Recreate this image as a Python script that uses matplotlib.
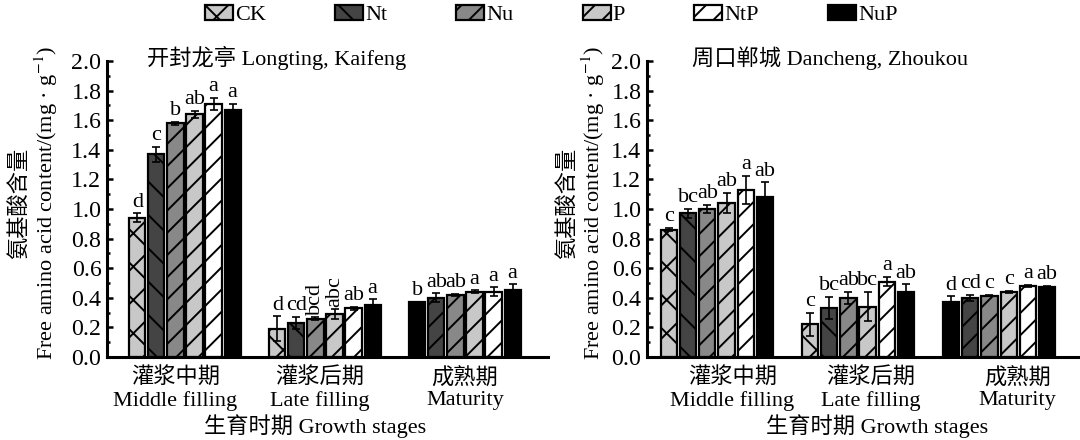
import numpy as np
import matplotlib
matplotlib.use("Agg")
import matplotlib.pyplot as plt
from matplotlib.patches import Patch

plt.rcParams['font.family'] = ['Liberation Serif', 'Noto Sans CJK SC']
plt.rcParams['mathtext.fontset'] = 'stix'
plt.rcParams['font.size'] = 8
plt.rcParams['hatch.linewidth'] = 0.7
plt.rcParams['axes.unicode_minus'] = False

treatments = ['CK', 'Nt', 'Nu', 'P', 'NtP', 'NuP']
stage_cn = ['灌浆中期', '灌浆后期', '成熟期']
stage_en = ['Middle filling', 'Late filling', 'Maturity']

# values per stage (rows) and treatment (columns)
kf_vals = [[0.94, 1.37, 1.58, 1.64, 1.71, 1.67],
           [0.19, 0.23, 0.26, 0.29, 0.33, 0.35],
           [0.37, 0.40, 0.42, 0.44, 0.44, 0.45]]
kf_err = [[0.03, 0.05, 0.01, 0.025, 0.04, 0.04],
          [0.085, 0.04, 0.01, 0.035, 0.01, 0.04],
          [0.005, 0.03, 0.005, 0.01, 0.03, 0.04]]
kf_letters = [['d', 'c', 'b', 'ab', 'a', 'a'],
              ['d', 'cd', 'bcd', 'abc', 'ab', 'a'],
              ['b', 'ab', 'ab', 'a', 'a', 'a']]

zk_vals = [[0.86, 0.97, 1.00, 1.04, 1.13, 1.08],
           [0.22, 0.33, 0.40, 0.34, 0.51, 0.44],
           [0.37, 0.40, 0.415, 0.44, 0.48, 0.475]]
zk_err = [[0.01, 0.03, 0.03, 0.07, 0.095, 0.10],
          [0.08, 0.075, 0.04, 0.10, 0.03, 0.05],
          [0.04, 0.02, 0.005, 0.005, 0.005, 0.005]]
zk_letters = [['c', 'bc', 'ab', 'ab', 'a', 'ab'],
              ['c', 'bc', 'ab', 'bc', 'a', 'ab'],
              ['d', 'cd', 'c', 'c', 'a', 'ab']]

colors = ['#c8c8c8', '#444444', '#888888', '#c8c8c8', 'white', 'black']
hatches = ['xx', '\\\\', '///', '///', '///', '']
# the maturity group is drawn with shifted fills in the original figure
mat_colors = ['black', '#444444', '#888888', '#c8c8c8', 'white', 'black']
mat_hatches = ['', '///', '///', '///', '///', '']

step = 0.136
width = 0.115


def draw_panel(ax, vals, errs, letters, title, title_x, xlim, tick_shift, xlabel_x, ylabel_x):
    for g in range(len(stage_cn)):
        if g == 2:
            cols, hats = mat_colors, mat_hatches
        else:
            cols, hats = colors, hatches
        for i in range(len(treatments)):
            x = g + (i - 2.5) * step
            ax.bar(x, vals[g][i], width, color=cols[i], edgecolor='black',
                   hatch=hats[i], linewidth=0.8, zorder=2)
            ax.errorbar(x, vals[g][i], yerr=errs[g][i], fmt='none', ecolor='black',
                        elinewidth=0.6, capsize=1.5, capthick=0.6, zorder=3)
            lab = letters[g][i]
            top = vals[g][i] + errs[g][i] + 0.012
            if len(lab) == 3:
                ax.text(x, top, lab, ha='center', va='bottom', rotation=90, fontsize=8)
            else:
                ax.text(x, top, lab, ha='center', va='bottom', fontsize=8)

    ax.set_xlim(xlim)
    ax.set_ylim(0, 2.0)
    ax.set_yticks(np.arange(0, 2.01, 0.2))
    ax.set_yticks(np.arange(0.1, 2.0, 0.2), minor=True)
    ax.set_yticklabels(['%.1f' % v for v in np.arange(0, 2.01, 0.2)], fontsize=8.6)
    ax.set_xticks(np.arange(3) + np.array(tick_shift))
    ax.set_xticklabels([c + '\n' + e for c, e in zip(stage_cn, stage_en)], linespacing=1.15)
    ax.tick_params(axis='y', which='major', direction='in', length=2.0, width=0.9, pad=2)
    ax.tick_params(axis='y', which='minor', direction='in', length=1.2, width=0.9)
    ax.tick_params(axis='x', length=0, pad=4)
    for s in ['top', 'right']:
        ax.spines[s].set_visible(False)
    for s in ['left', 'bottom']:
        ax.spines[s].set_linewidth(1.1)

    ax.text(title_x, 1.01, title, transform=ax.transAxes, ha='center', va='center', fontsize=8)
    ax.set_xlabel('生育时期 Growth stages', va='center')
    ax.xaxis.set_label_coords(xlabel_x, -0.235)
    ax.set_ylabel('氨基酸含量\nFree amino acid content/(mg · g$^{-1}$)', linespacing=1.1)
    ax.yaxis.set_label_coords(ylabel_x, 0.52)


fig = plt.figure(figsize=(5.4, 2.2), dpi=200)
ax1 = fig.add_axes([107 / 1080, 83 / 440, 441 / 1080, 296 / 440])
ax2 = fig.add_axes([647 / 1080, 83 / 440, 433 / 1080, 296 / 440])

draw_panel(ax1, kf_vals, kf_err, kf_letters, '开封龙亭 Longting, Kaifeng', 0.385,
           (-0.557, 2.593), [-0.07, -0.035, 0.0], 0.472, -0.107)
draw_panel(ax2, zk_vals, zk_err, zk_letters, '周口郸城 Dancheng, Zhoukou', 0.423,
           (-0.496, 2.574), [0.11, 0.09, 0.13], 0.531, -0.092)

handles = [Patch(facecolor=colors[i], edgecolor='black', hatch=hatches[i], linewidth=0.8)
           for i in range(len(treatments))]
fig.legend(handles, treatments, loc='upper left', bbox_to_anchor=(205 / 1080, 1 - 5 / 440),
           ncol=6, frameon=False, handlelength=1.26, handleheight=0.63, handletextpad=0.1,
           columnspacing=3.1, borderpad=0, borderaxespad=0, fontsize=8)

fig.savefig('out.png', dpi=200)
